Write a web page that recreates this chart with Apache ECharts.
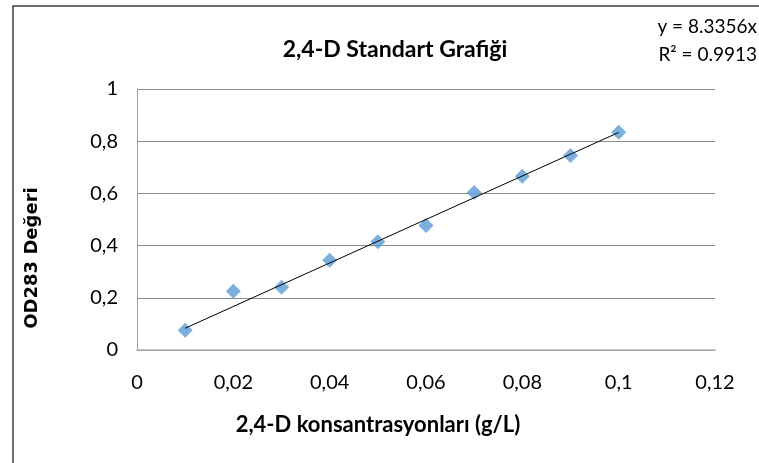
<!DOCTYPE html>
<html>
<head>
<meta charset="utf-8">
<script src="https://cdn.jsdelivr.net/npm/echarts@6/dist/echarts.min.js"></script>
<style>html,body{margin:0;padding:0;background:#fff}#c{width:759px;height:463px}</style>
</head>
<body>
<div id="c"></div>
<script>
const concentrations = [0.01, 0.02, 0.03, 0.04, 0.05, 0.06, 0.07, 0.08, 0.09, 0.1];
const odValues = [0.076, 0.225, 0.240, 0.344, 0.415, 0.477, 0.603, 0.666, 0.745, 0.834];
const trendSlope = 8.3356;
const rSquared = '0.9913';
const xTicks = [0, 0.02, 0.04, 0.06, 0.08, 0.1, 0.12];
const yTicks = [0, 0.2, 0.4, 0.6, 0.8, 1];
const xAxisTitle = '2,4-D konsantrasyonları (g/L)';
const yAxisTitle = 'OD283 Değeri';

const fmt = v => String(+v.toFixed(4)).replace('.', ',');
const trendX = [concentrations[0], concentrations[concentrations.length - 1]];
const trendData = trendX.map(x => [x, trendSlope * x]);

const chart = echarts.init(document.getElementById('c'));
chart.setOption({
  animation: false,
  backgroundColor: '#fff',
  title: {
    text: '2,4-D Standart Grafiği',
    left: 390, top: 33, textAlign: 'center',
    textStyle: { fontFamily: 'Lato', fontWeight: 'bold', fontSize: 23, color: '#000' }
  },
  graphic: [
    { type: 'rect', shape: { x: 13, y: 6, width: 800, height: 600 }, style: { fill: 'none', stroke: '#404040', lineWidth: 1.5 }, silent: true },
    { type: 'text', right: 2, top: 17, style: { text: 'y = ' + trendSlope + 'x', fontFamily: 'Lato', fontSize: 19, fill: '#000', textAlign: 'right' } },
    { type: 'text', right: 2, top: 45, style: { text: 'R² = ' + rSquared, fontFamily: 'Lato', fontSize: 19, fill: '#000', textAlign: 'right' } },
    { type: 'text', x: 32, y: 258, rotation: Math.PI / 2,
      style: { text: yAxisTitle, fontFamily: 'DejaVu Sans', fontWeight: 'bold', fontSize: 18, fill: '#000', align: 'center', verticalAlign: 'middle' } },
    { type: 'text', x: 378, y: 425,
      style: { text: xAxisTitle, fontFamily: 'Lato', fontWeight: 'bold', fontSize: 22, fill: '#000', align: 'center', verticalAlign: 'middle' } }
  ],
  grid: { left: 137, right: 44, top: 89, bottom: 113 },
  xAxis: {
    type: 'value', min: 0, max: 0.12, interval: 0.02,
    axisLine: { show: true, lineStyle: { color: '#b0b0b0', width: 1.5 } },
    axisTick: { show: false },
    splitLine: { show: false },
    axisLabel: { margin: 23, fontFamily: 'Lato', fontSize: 20, color: '#000', formatter: v => fmt(v) }
  },
  yAxis: {
    type: 'value', min: 0, max: 1, interval: 0.2,
    axisLine: { show: true, lineStyle: { color: '#a0a0a0', width: 1 } },
    axisTick: { show: false },
    splitLine: { show: true, lineStyle: { color: '#8c8c8c', width: 1 } },
    axisLabel: { margin: 19, fontFamily: 'Lato', fontSize: 20, color: '#000', formatter: v => fmt(v) }
  },
  series: [
    {
      type: 'line', data: trendData, showSymbol: false, symbol: 'none',
      lineStyle: { color: '#000', width: 1 }, z: 3, silent: true
    },
    {
      type: 'scatter', data: concentrations.map((x, i) => [x, odValues[i]]),
      symbol: 'diamond', symbolSize: [15, 15],
      itemStyle: { color: '#5b9bd5' }, z: 2
    }
  ]
});
</script>
</body>
</html>
